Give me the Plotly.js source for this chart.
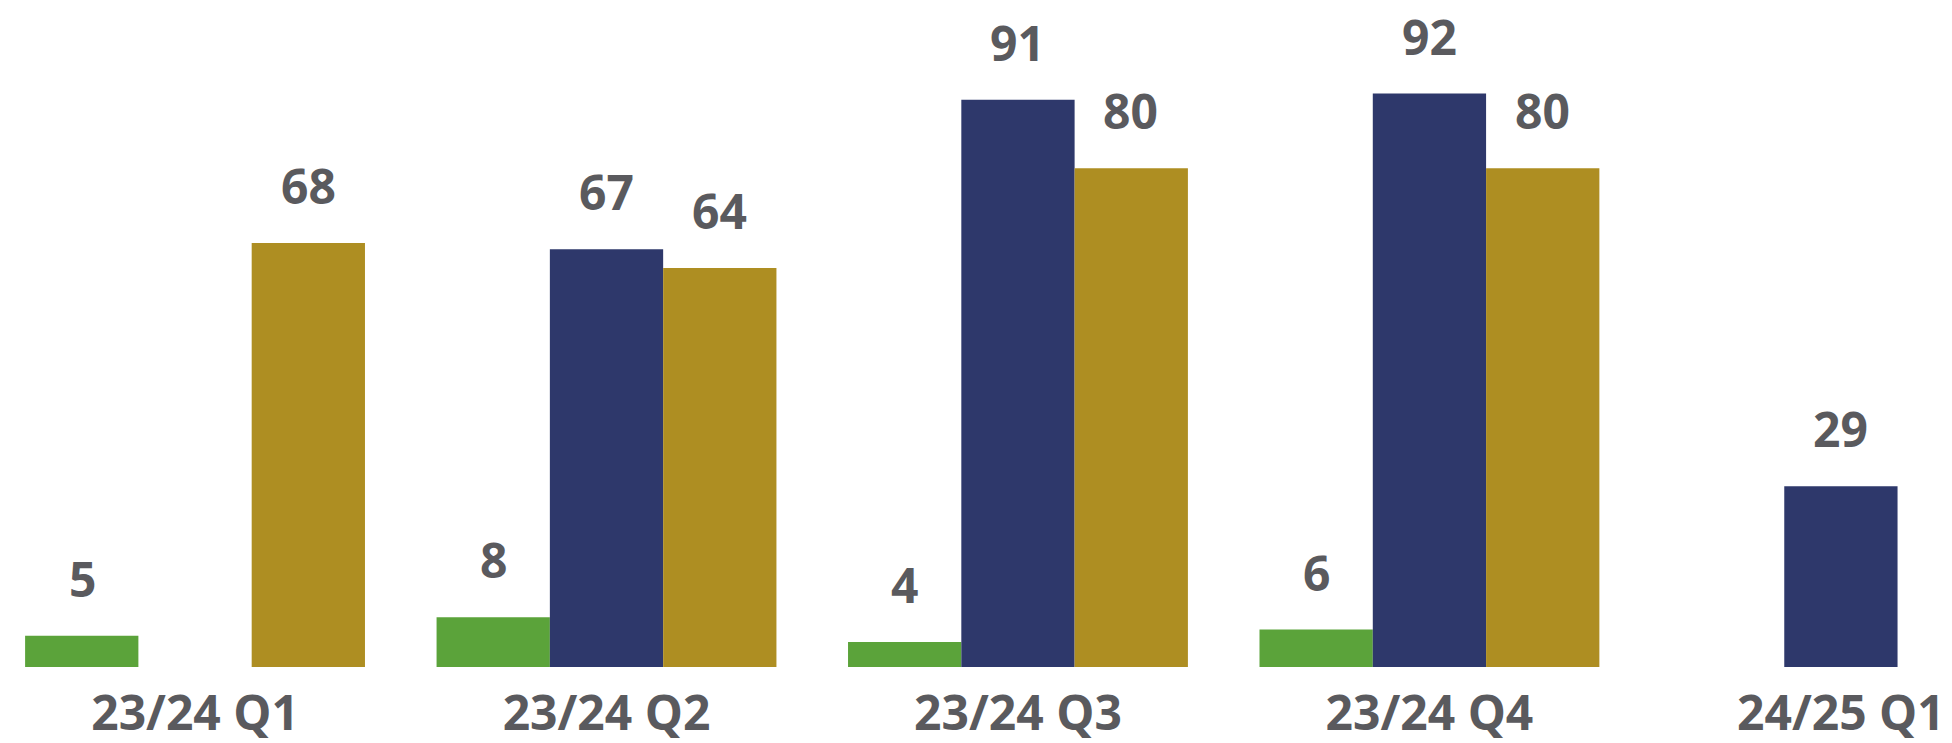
<!DOCTYPE html>
<html>
<head>
<meta charset="utf-8">
<script src="https://cdn.plot.ly/plotly-3.0.1.min.js"></script>
<style>
html,body{margin:0;padding:0;background:#fff;}
#chart{width:1952px;height:743px;}
</style>
</head>
<body>
<div id="chart"></div>
<script>
var categories = ["23/24 Q1", "23/24 Q2", "23/24 Q3", "23/24 Q4", "24/25 Q1"];
var seriesGreen = [5, 8, 4, 6, null];
var seriesNavy = [null, 67, 91, 92, 29];
var seriesGold = [68, 64, 80, 80, null];

var colors = ["#5BA33A", "#2E386B", "#AE8E22"];
var seriesList = [seriesGreen, seriesNavy, seriesGold];
var labelShift = [-113, 0, 113];
var textColor = "#5A5A5E";
var fontFamily = "'Open Sans', 'Noto Sans', sans-serif";

var traces = seriesList.map(function (vals, k) {
  return {
    type: "bar",
    x: categories,
    y: vals,
    marker: {color: colors[k], line: {width: 0}},
    hoverinfo: "none",
    showlegend: false
  };
});

var annotations = [];
seriesList.forEach(function (vals, k) {
  vals.forEach(function (v, i) {
    if (v === null) return;
    annotations.push({
      x: categories[i], y: v, xref: "x", yref: "y",
      text: String(v), showarrow: false,
      xshift: labelShift[k], yshift: 23, yanchor: "bottom",
      font: {family: fontFamily, size: 48, color: textColor, weight: 700}
    });
  });
});

var layout = {
  width: 1952, height: 743,
  margin: {l: 0, r: 0, t: 0, b: 76, pad: 0},
  paper_bgcolor: "#ffffff", plot_bgcolor: "#ffffff",
  barmode: "group", bargap: 0.174, bargroupgap: 0,
  xaxis: {
    type: "category", range: [-0.474, 4.270],
    showgrid: false, zeroline: false, showline: false, ticks: "",
    ticklabelstandoff: 14,
    tickfont: {family: fontFamily, size: 48, color: textColor, weight: 700},
    fixedrange: true
  },
  yaxis: {
    range: [0, 107], visible: false, showgrid: false, zeroline: false, fixedrange: true
  },
  annotations: annotations,
  showlegend: false
};

Plotly.newPlot("chart", traces, layout, {displayModeBar: false, staticPlot: true});
</script>
</body>
</html>
